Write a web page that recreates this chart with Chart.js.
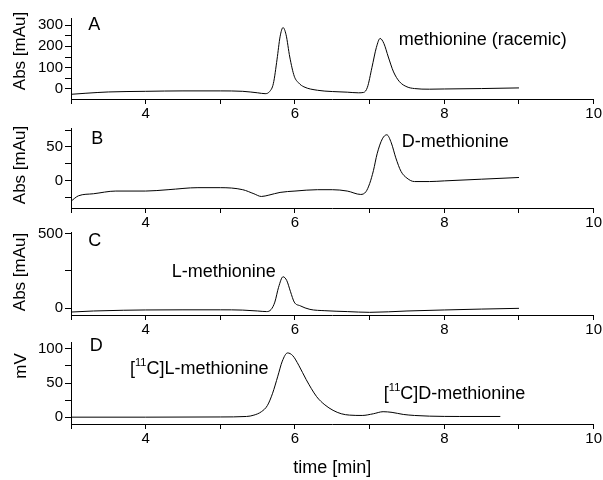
<!DOCTYPE html>
<html><head><meta charset="utf-8">
<script src="https://cdn.jsdelivr.net/npm/chart.js@4"></script>
<style>
html,body{margin:0;padding:0;background:#fff;}
#wrap{position:relative;width:603px;height:480px;}
#wrap canvas{position:absolute;left:0;top:0;}
</style></head><body>
<div id="wrap">
<canvas id="cA" width="603" height="480"></canvas>
<canvas id="cB" width="603" height="480"></canvas>
<canvas id="cC" width="603" height="480"></canvas>
<canvas id="cD" width="603" height="480"></canvas>
</div>
<script>
// ---- data ----
const xTicks = [3, 4, 5, 6, 7, 8, 9, 10];
const xLabels = ['', '4', '', '6', '', '8', '', '10'];
const xTitle = 'time [min]';

const timeA = [3.0,3.2,3.5,4.0,4.5,5.0,5.3,5.5,5.6,5.66,5.71,5.76,5.8,5.84,5.88,5.93,5.99,6.05,6.12,6.3,6.5,6.7,6.85,6.92,6.97,7.03,7.09,7.14,7.19,7.25,7.32,7.4,7.5,7.6,7.8,8.0,8.5,9.0];
const absA  = [-25,-20,-14,-11,-9,-9,-11,-18,-22,-12,25,140,245,288,255,150,60,28,10,-6,-12,-15,-18,-16,8,100,195,237,214,150,80,34,10,2,-1,0,2,5];
const yTicksA = [0, 50, 100, 150, 200, 250, 300];
const yLabelsA = ['0', '', '100', '', '200', '', '300'];

const timeB = [3.0,3.1,3.3,3.6,4.0,4.3,4.7,5.0,5.3,5.45,5.55,5.65,5.8,6.0,6.3,6.5,6.7,6.88,6.95,7.0,7.05,7.1,7.17,7.23,7.29,7.35,7.42,7.5,7.6,7.8,8.0,8.5,9.0];
const absB  = [-30,-22,-19,-15,-15,-13,-10,-10,-13,-19,-23,-21,-17,-15,-13,-13,-15,-20,-16,-4,15,40,62,68,56,34,14,4,-1,-1,0,2.5,5];
const yTicksB = [-25, 0, 25, 50, 75];
const yLabelsB = ['', '0', '', '50', ''];

const timeC = [3.0,3.3,3.7,4.0,4.5,5.0,5.3,5.5,5.62,5.68,5.73,5.78,5.84,5.89,5.94,5.99,6.07,6.2,6.4,6.7,7.0,7.5,8.0,8.5,9.0];
const absC  = [-27,-20,-15,-13,-12,-12,-14,-20,-24,-10,40,140,211,185,110,40,15,-9,-18,-24,-29,-20,-13,-7,-2];
const yTicksC = [0, 250, 500];
const yLabelsC = ['0', '', '500'];

const timeD = [3.0,4.0,5.0,5.35,5.45,5.55,5.63,5.7,5.77,5.83,5.9,5.97,6.05,6.15,6.29,6.4,6.51,6.62,6.73,6.9,7.05,7.18,7.3,7.45,7.6,7.8,8.2,8.75];
const mvD   = [0,0,0.3,1,3,8,17,35,60,82,94,90,76,55,30,18,10,5,3,2.5,5,8,7,4,2.5,1.5,1,1];
const yTicksD = [0, 25, 50, 75, 100];
const yLabelsD = ['0', '', '50', '', '100'];

// ---- drawing ----
const FAM = '"Liberation Sans", Arial, Helvetica, sans-serif';

function textPlugin(items, yTitle) {
  return {
    id: 'panelText',
    afterDraw(chart) {
      const ctx = chart.ctx, sx = chart.scales.x, sy = chart.scales.y;
      ctx.save();
      ctx.fillStyle = '#000';
      ctx.textBaseline = 'middle';
      ctx.textAlign = 'left';
      items.forEach(it => {
        let px = sx.getPixelForValue(it.x);
        const py = sy.getPixelForValue(it.y);
        it.parts.forEach(p => {
          ctx.font = p.size + 'px ' + FAM;
          ctx.fillText(p.t, px, py - (p.rise || 0));
          px += ctx.measureText(p.t).width;
        });
      });
      // rotated y-axis title
      ctx.save();
      ctx.translate(yTitle.cx, yTitle.cy);
      ctx.rotate(-Math.PI / 2);
      ctx.textAlign = 'center';
      ctx.font = yTitle.size + 'px ' + FAM;
      ctx.fillText(yTitle.text, 0, 0);
      ctx.restore();
      ctx.restore();
    }
  };
}

function panel(id, times, vals, yTicks, yLabels, yMin, yMax, yTitle, top, bottom, items, last) {
  const xH = last ? 480 - bottom : 30;
  new Chart(document.getElementById(id), {
    type: 'line',
    data: {
      datasets: [{
        data: times.map((t, i) => ({x: t, y: vals[i]})),
        borderColor: '#000', borderWidth: 1, pointRadius: 0,
        cubicInterpolationMode: 'monotone', fill: false
      }]
    },
    options: {
      responsive: false, animation: false, devicePixelRatio: 1, events: [],
      layout: {padding: {left: 0, right: 9, top: top, bottom: 480 - bottom - xH}},
      plugins: {legend: {display: false}, tooltip: {enabled: false}},
      scales: {
        x: {
          type: 'linear', min: 3, max: 10,
          afterBuildTicks: s => { s.ticks = xTicks.map(v => ({value: v})); },
          afterFit: s => { s.height = xH; },
          grid: {display: true, drawOnChartArea: false, drawTicks: true, tickLength: 5, color: '#000', tickColor: '#000'},
          border: {display: true, color: '#000', width: 1},
          ticks: {autoSkip: false, maxRotation: 0, minRotation: 0, color: '#000', padding: 1,
                  font: {family: FAM, size: 15}, callback: (v, i) => xLabels[i]},
          title: {display: !!last, text: xTitle, color: '#000', font: {family: FAM, size: 18}, padding: {top: 2, bottom: 1}}
        },
        y: {
          type: 'linear', min: yMin, max: yMax,
          afterBuildTicks: s => { s.ticks = yTicks.map(v => ({value: v})); },
          afterFit: s => { s.width = 71; },
          grid: {display: true, drawOnChartArea: false, drawTicks: true, tickLength: 6, color: '#000', tickColor: '#000'},
          border: {display: true, color: '#000', width: 1},
          ticks: {autoSkip: false, color: '#000', padding: 2,
                  font: {family: FAM, size: 15}, callback: (v, i) => yLabels[i]},
          title: {display: false}
        }
      }
    },
    plugins: [textPlugin(items, yTitle)]
  });
}

const big = 18;
panel('cA', timeA, absA, yTicksA, yLabelsA, -47, 333, {text: 'Abs [mAu]', cx: 20, cy: 51, size: 17}, 18, 99, [
  {x: 3.23, y: 302, parts: [{t: 'A', size: big}]},
  {x: 7.39, y: 229, parts: [{t: 'methionine (racemic)', size: big}]}
], false);
panel('cB', timeB, absB, yTicksB, yLabelsB, -40, 78, {text: 'Abs [mAu]', cx: 20, cy: 165, size: 17}, 128, 208, [
  {x: 3.27, y: 62, parts: [{t: 'B', size: big}]},
  {x: 7.43, y: 58, parts: [{t: 'D-methionine', size: big}]}
], false);
panel('cC', timeC, absC, yTicksC, yLabelsC, -47, 513, {text: 'Abs [mAu]', cx: 20, cy: 272, size: 17}, 232, 315, [
  {x: 3.23, y: 454, parts: [{t: 'C', size: big}]},
  {x: 4.35, y: 246, parts: [{t: 'L-methionine', size: big}]}
], false);
panel('cD', timeD, mvD, yTicksD, yLabelsD, -10, 110, {text: 'mV', cx: 21, cy: 366, size: 17}, 342, 424, [
  {x: 3.25, y: 104, parts: [{t: 'D', size: big}]},
  {x: 3.79, y: 71, parts: [{t: '[', size: big}, {t: '11', size: 11, rise: 6}, {t: 'C]L-methionine', size: big}]},
  {x: 7.19, y: 34, parts: [{t: '[', size: big}, {t: '11', size: 11, rise: 6}, {t: 'C]D-methionine', size: big}]}
], true);
</script>
</body></html>
